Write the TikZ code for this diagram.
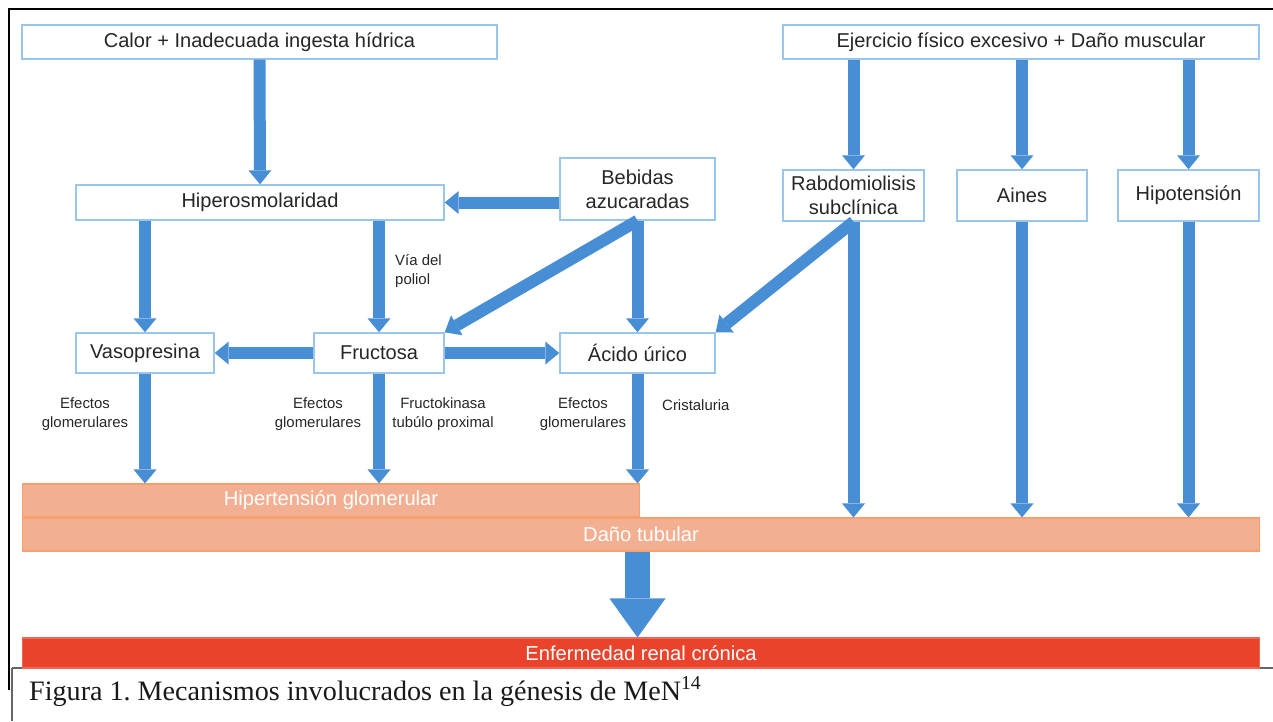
\documentclass[tikz,border=0pt]{standalone}
\usepackage{fontspec}
\setmainfont{Liberation Sans}
\newfontfamily\serifa{Liberation Serif}
\usetikzlibrary{arrows.meta}
\usepackage{xcolor}
\definecolor{azul}{RGB}{72,142,212}
\definecolor{borde}{RGB}{155,198,236}
\definecolor{salmon}{RGB}{243,175,145}
\definecolor{salmonb}{RGB}{246,160,110}
\definecolor{rojo}{RGB}{233,67,44}
\frenchspacing

\begin{document}
\begin{tikzpicture}[x=0.02cm,y=-0.02cm,
    caja/.style={draw=borde,line width=0.8pt,fill=white,align=center,inner sep=0pt,text=black!85,font=\fontsize{11.4}{13.6}\selectfont},
    barra/.style={draw=salmonb,fill=salmon,line width=0.6pt,minimum width=24.76cm,minimum height=0.66cm,inner sep=0pt,text=white,font=\fontsize{11.5}{12}\selectfont},
    etiq/.style={font=\fontsize{8.5}{10.4}\selectfont,align=center,text=black!85},
    flecha/.style={draw=azul,line width=0.24cm,-{Triangle[width=0.46cm,length=0.28cm,line width=0pt]}}]
	\useasboundingbox (0,0) rectangle (1273,721);
	% Marco
	\draw[line width=1pt] (8,9) -- (1273,9);
	\draw[line width=1pt] (9,9) -- (9,690);
	\draw[black!60,line width=0.6pt] (12,668) -- (1273,668);
	\draw[black!60,line width=0.6pt] (12,668) -- (12,721);

	% Causas
	\node[caja,minimum width=9.5cm,minimum height=0.68cm] (calor) at (259.5,42) {Calor + Inadecuada ingesta hídrica};
	\node[caja,minimum width=9.52cm,minimum height=0.68cm] (ejercicio) at (1021,42) {Ejercicio físico excesivo + Daño muscular};

	% Nivel intermedio
	\node[caja,minimum width=7.36cm,minimum height=0.7cm] (hiper) at (260,202.5) {Hiperosmolaridad};
	\node[caja,minimum width=3.1cm,minimum height=1.24cm] (bebidas) at (637.5,189) {Bebidas\\azucaradas};
	\node[caja,minimum width=2.82cm,minimum height=1.02cm] (rabdo) at (853.5,195.5) {Rabdomiolisis\\subclínica};
	\node[caja,minimum width=2.6cm,minimum height=1.02cm] (aines) at (1022,195.5) {Aines};
	\node[caja,minimum width=2.82cm,minimum height=1.02cm] (hipot) at (1188.5,195.5) {Hipotensión};

	% Mediadores
	\node[caja,minimum width=2.76cm,minimum height=0.8cm] (vaso) at (145,353) {Vasopresina};
	\node[caja,minimum width=2.6cm,minimum height=0.8cm] (fructosa) at (379,353) {Fructosa};
	\node[caja,minimum width=3.1cm,minimum height=0.8cm] (acido) at (637.5,353) {Ácido úrico};

	% Barras de dano
	\node[barra,minimum width=12.36cm] (hg) at (331,500.5) {Hipertensión glomerular};
	\node[barra] (dt) at (641,534.5) {Daño tubular};
	\node[barra,draw=rojo!80,fill=rojo,minimum height=0.6cm] (erc) at (641,653) {Enfermedad renal crónica};

	% Etiquetas
	\node[etiq,anchor=west,align=left] (poliol) at (389,271) {Vía del\\poliol};
	\node[etiq] (ef1) at (85,414) {Efectos\\glomerulares};
	\node[etiq] (ef2) at (318,414) {Efectos\\glomerulares};
	\node[etiq] (fk) at (443,414) {Fructokinasa\\tubúlo proximal};
	\node[etiq] (ef3) at (583,414) {Efectos\\glomerulares};
	\node[etiq,anchor=west] (cris) at (656,405) {Cristaluria};

	% Flechas
	\draw[flecha] (calor.south) -- (hiper.north);
	\draw[flecha] (rabdo.north |- ejercicio.south) -- (rabdo.north);
	\draw[flecha] (aines.north |- ejercicio.south) -- (aines.north);
	\draw[flecha] (hipot.north |- ejercicio.south) -- (hipot.north);
	\draw[flecha] (bebidas.west |- hiper.east) -- (hiper.east);
	\draw[flecha] (vaso.north |- hiper.south) -- (vaso.north);
	\draw[flecha] (fructosa.north |- hiper.south) -- (fructosa.north);
	\draw[flecha] (bebidas.south) -- (fructosa.north east);
	\draw[flecha] (bebidas.south) -- (acido.north);
	\draw[flecha] (rabdo.south) -- (acido.north east);
	\draw[flecha] (fructosa.west) -- (vaso.east);
	\draw[flecha] (fructosa.east) -- (acido.west);
	\draw[flecha] (vaso.south) -- (vaso.south |- hg.north);
	\draw[flecha] (fructosa.south) -- (fructosa.south |- hg.north);
	\draw[flecha] (acido.south) -- (acido.south |- hg.north);
	\draw[flecha] (rabdo.south) -- (rabdo.south |- dt.north);
	\draw[flecha] (aines.south) -- (aines.south |- dt.north);
	\draw[flecha] (hipot.south) -- (hipot.south |- dt.north);
	\draw[flecha,line width=0.5cm,-{Triangle[width=1.12cm,length=0.78cm,line width=0pt]}] (dt.south -| acido.south) -- (erc.north -| acido.south);

	% Pie de figura
	\node[font=\serifa\fontsize{16}{18}\selectfont,anchor=west,text=black!90] (pie) at (23,692) {Figura 1. Mecanismos involucrados en la génesis de MeN\textsuperscript{14}};
\end{tikzpicture}
\end{document}
